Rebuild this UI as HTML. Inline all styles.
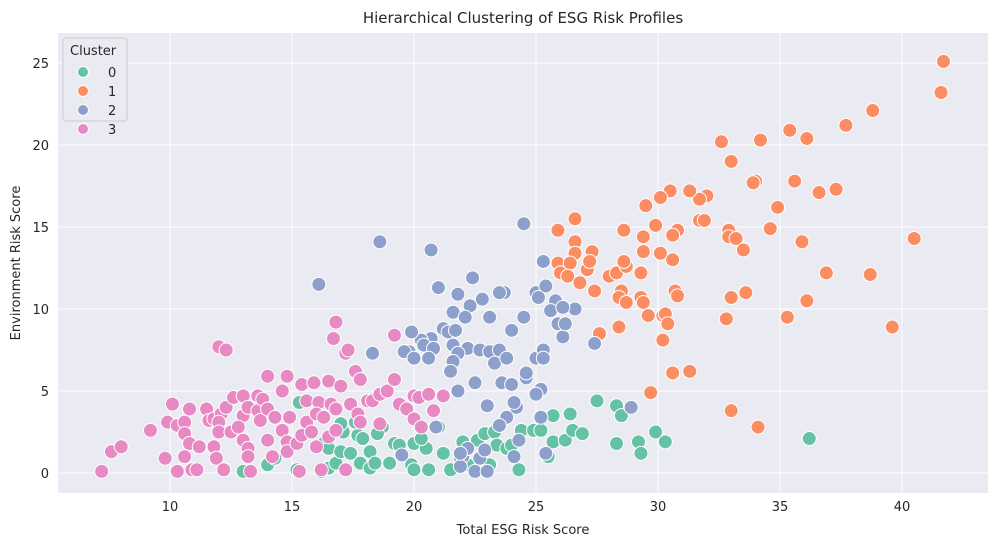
<!DOCTYPE html>
<html><head><meta charset="utf-8"><style>
body{margin:0;background:#fff;font-family:"Liberation Sans","DejaVu Sans",sans-serif}
</style></head><body>
<svg id="chart" width="996" height="547" xmlns="http://www.w3.org/2000/svg" font-family="DejaVu Sans, Liberation Sans, sans-serif">
<rect x="0" y="0" width="996" height="547" fill="#fff"/>
<rect x="58" y="33" width="930" height="460" fill="#eaeaf2"/>
<g id="grid"></g>
<g id="points"></g>
<g id="ticks" font-size="13" fill="#262626"></g>
<text x="523" y="23" text-anchor="middle" font-size="15" fill="#262626">Hierarchical Clustering of ESG Risk Profiles</text>
<text x="523" y="534" text-anchor="middle" font-size="13" fill="#262626">Total ESG Risk Score</text>
<text transform="translate(20,263) rotate(-90)" text-anchor="middle" font-size="13" fill="#262626">Environment Risk Score</text>
<g id="legend">
<rect x="63" y="38" width="64" height="83" rx="3" fill="#eaeaf2" stroke="#cccccc"/>
<text x="70" y="55" font-size="13" fill="#262626">Cluster</text>
</g>
</svg>
<script>
const xTicks=[10,15,20,25,30,35,40];
const yTicks=[0,5,10,15,20,25];
const clusterLabels=["0","1","2","3"];
const colors=["#66c2a5","#fc8d62","#8da0cb","#e78ac3"];
const cluster0=[[13,0.1],[14,0.5],[14.3,0.9],[15.2,0.2],[15.3,4.3],[16.2,0.1],[16.5,0.3],[16.8,0.6],[16.3,1.8],[16.5,1.5],[17.0,1.3],[17.1,2.5],[17.4,1.2],[17.7,2.3],[17.8,0.6],[17.0,3.0],[17.6,3.1],[17.9,2.1],[18.2,1.3],[18.2,0.3],[18.4,0.6],[18.7,2.8],[18.5,2.4],[19.2,1.8],[19.4,1.7],[19.9,0.5],[20.0,1.8],[20.0,0.2],[20.5,1.5],[20.3,2.1],[20.6,0.2],[21.0,2.8],[21.2,1.2],[21.5,0.2],[21.9,0.9],[22.0,1.9],[22.2,0.5],[22.6,2.0],[22.9,2.4],[23.3,2.5],[23.4,1.7],[23.8,1.5],[23.1,0.5],[24.0,1.7],[24.4,2.6],[24.9,2.6],[25.2,2.6],[25.5,1.0],[25.7,1.9],[25.7,3.5],[26.2,2.0],[26.4,3.6],[26.5,2.6],[26.9,2.4],[27.5,4.4],[28.3,4.1],[28.5,3.5],[28.3,1.8],[29.2,1.9],[29.3,1.2],[29.9,2.5],[30.3,1.9],[36.2,2.1],[24.3,0.2],[19.0,0.6]];
const cluster1=[[41.7,25.1],[41.6,23.2],[38.8,22.1],[37.7,21.2],[35.4,20.9],[36.1,20.4],[34.2,20.3],[32.6,20.2],[33,19],[34,17.8],[33.9,17.7],[35.6,17.8],[37.3,17.3],[36.6,17.1],[34.9,16.2],[32,16.9],[31.7,16.7],[31.3,17.2],[30.5,17.2],[30.1,16.8],[29.5,16.3],[31.7,15.4],[31.9,15.4],[29.9,15.1],[30.8,14.8],[30.6,14.5],[28.6,14.8],[26.6,15.5],[25.9,14.8],[26.6,14.1],[29.4,14.4],[29.4,13.5],[30.1,13.4],[30.6,13],[32.9,14.8],[32.9,14.4],[33.2,14.3],[33.5,13.6],[34.6,14.9],[35.9,14.1],[40.5,14.3],[26.6,13.4],[25.9,12.8],[26.4,12.8],[26,12.2],[26.3,12],[27.1,12.4],[27.3,13.5],[27.2,12.9],[28.0,12.0],[28.3,12.2],[28.7,12.6],[28.6,12.9],[29.3,12.2],[26.8,11.6],[27.4,11.1],[28.5,11.1],[28.4,10.7],[28.7,10.4],[29.3,10.7],[29.4,10.4],[30.2,9.6],[30.3,9.7],[30.4,9.1],[29.6,9.6],[30.7,11.1],[30.8,10.8],[33.6,11],[33,10.7],[36.9,12.2],[38.7,12.1],[36.1,10.5],[35.3,9.5],[32.8,9.4],[39.6,8.9],[28.4,8.9],[27.6,8.5],[30.2,8.1],[30.6,6.1],[31.3,6.2],[29.7,4.9],[33.0,3.8],[34.1,2.8]];
const cluster2=[[18.6,14.1],[20.7,13.6],[24.5,15.2],[16.1,11.5],[22.4,11.9],[21,11.3],[25.3,12.9],[21.8,10.9],[22.3,10.2],[21.6,9.8],[22.1,9.5],[22.8,10.6],[23.7,11],[23.5,11],[25,11],[25.4,11.4],[25.1,10.7],[25.8,10.5],[25.6,9.9],[24.5,9.5],[25.9,9.1],[26.1,8.3],[26.2,9.1],[26.6,10],[26.1,10.1],[23.1,9.5],[24,8.7],[21.2,8.8],[21.5,8.5],[20.7,8.2],[20.3,8.1],[19.9,8.6],[20.4,7.8],[20.8,7.6],[19.8,7.4],[18.3,7.3],[19.6,7.4],[20.0,7.0],[20.6,7.0],[21.4,8.6],[21.7,8.7],[21.6,7.8],[22.2,7.6],[21.8,7.3],[22.7,7.5],[23.1,7.4],[23.5,7.5],[23.3,6.7],[21.6,6.8],[21.5,6.2],[22.5,5.5],[21.8,5.0],[23.6,5.5],[24.0,5.4],[23.8,7.0],[24.6,5.8],[24.6,6.1],[25.0,7.0],[25.3,7.5],[25.3,7.0],[25.2,5.1],[25.0,4.8],[25.2,3.4],[24.2,4.0],[24.1,4.3],[23.0,4.1],[20.9,2.8],[23.8,3.4],[24.3,2.0],[23.5,2.9],[22.0,1.0],[22.2,1.5],[21.9,0.4],[22.7,0.9],[22.5,0.1],[24.1,1.0],[25.4,1.2],[21.9,1.2],[27.4,7.9],[28.9,4.0],[19.5,1.1],[22.9,1.4],[23.0,0.1]];
const cluster3=[[7.2,0.1],[7.6,1.3],[8,1.6],[9.2,2.6],[9.8,0.9],[10.1,4.2],[9.9,3.1],[10.3,2.9],[10.6,3.1],[10.6,2.4],[10.8,3.9],[10.8,1.8],[10.6,1.0],[10.9,0.2],[10.3,0.1],[11.1,0.2],[11.2,1.6],[11.5,3.9],[11.6,3.2],[11.8,3.3],[12.1,3.6],[12.0,3.1],[12.0,2.5],[11.8,1.6],[11.9,0.9],[12.2,0.2],[12.0,7.7],[12.3,7.5],[12.3,4.0],[12.5,2.5],[12.6,4.6],[13.0,4.7],[13.0,3.5],[13.2,4.0],[12.8,2.8],[13.0,2.0],[13.2,1.5],[13.2,1.0],[13.3,0.1],[13.6,3.8],[13.6,4.7],[13.8,4.5],[13.7,3.2],[14.0,2.0],[14.0,3.9],[14.0,5.9],[14.3,3.4],[14.6,5.0],[14.8,5.9],[14.6,2.6],[14.9,3.4],[14.8,1.9],[14.8,1.3],[15.2,1.8],[15.4,5.4],[15.6,4.4],[15.6,3.1],[15.4,2.3],[15.3,0.1],[15.9,5.5],[16.1,4.3],[16.0,3.6],[16.3,3.4],[16.5,2.2],[16.0,1.6],[16.5,5.6],[16.6,4.2],[16.7,8.2],[16.8,9.2],[17.2,7.3],[17.3,7.5],[17.0,5.3],[16.8,3.9],[17.4,4.2],[17.6,6.2],[17.8,5.7],[17.7,3.6],[18.1,4.4],[18.3,4.4],[18.6,4.8],[18.9,5.0],[18.6,3.0],[19.2,5.7],[19.4,4.2],[19.7,3.9],[20.0,4.7],[20.0,3.3],[19.2,8.4],[20.2,4.6],[20.6,4.8],[21.2,4.7],[20.8,3.8],[20.3,2.8],[16.8,2.6],[17.2,0.2],[14.2,1.0],[16.2,0.2],[15.8,2.5],[17.8,3.1]];

const NS="http://www.w3.org/2000/svg";
const X=v=>170+(v-10)*24.4;
const Y=v=>473-v*16.4;
function mk(tag,attrs,parent){const e=document.createElementNS(NS,tag);for(const k in attrs)e.setAttribute(k,attrs[k]);parent.appendChild(e);return e;}
const grid=document.getElementById('grid'),ticks=document.getElementById('ticks'),pts=document.getElementById('points'),leg=document.getElementById('legend');
xTicks.forEach(t=>{
  const l=mk('line',{x1:X(t),x2:X(t),y1:33,y2:493,stroke:'#fff','stroke-width':1},grid);
  
  
  const tx=mk('text',{x:X(t),y:511,'text-anchor':'middle'},ticks);tx.textContent=t;
  
  
});
yTicks.forEach(t=>{
  const l=mk('line',{x1:58,x2:988,y1:Y(t),y2:Y(t),stroke:'#fff','stroke-width':1},grid);
  
  
  const tx=mk('text',{x:49,y:Y(t)+5,'text-anchor':'end'},ticks);tx.textContent=t;
  
  
});
[cluster0,cluster1,cluster2,cluster3].forEach((arr,ci)=>{
  arr.forEach(p=>{
    const c=mk('circle',{cx:X(p[0]),cy:Y(p[1]),r:7,fill:colors[ci],stroke:'#fff','stroke-width':1},pts);
    
    
  });
});
clusterLabels.forEach((lab,i)=>{
  const y=72+i*19;
  const c=mk('circle',{cx:83,cy:y,r:5.5,fill:colors[i],stroke:'#fff','stroke-width':1},leg);
  
  
  const t=mk('text',{x:108,y:y+5,'font-size':13,fill:'#262626'},leg);t.textContent=lab;
  
  
});
</script>
</body></html>
